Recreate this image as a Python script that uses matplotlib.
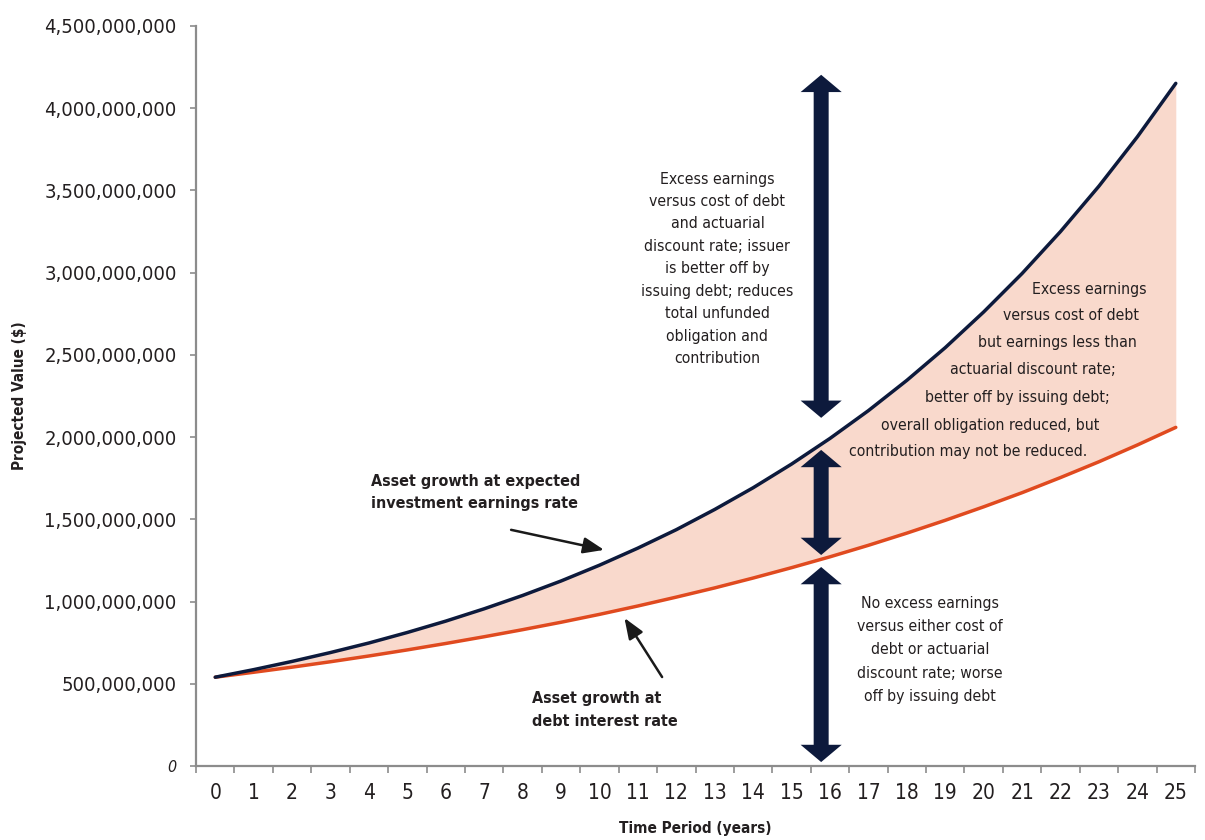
import matplotlib
matplotlib.use("Agg")
import matplotlib.pyplot as plt
from matplotlib.patches import Polygon
from matplotlib.ticker import FuncFormatter

FONT = ["Liberation Sans Narrow", "DejaVu Sans"]
plt.rcParams["font.family"] = FONT
plt.rcParams["font.stretch"] = "condensed"

# projected asset values, millions of dollars, by year
years = list(range(26))
earnings_rate_growth = [540, 586, 636, 690, 748, 812, 881, 956, 1037, 1125, 1221,
                        1325, 1437, 1560, 1692, 1836, 1992, 2161, 2345, 2544,
                        2761, 2995, 3250, 3526, 3826, 4151]
debt_rate_growth = [540, 570, 601, 634, 669, 706, 745, 786, 829, 874, 922,
                    973, 1027, 1083, 1143, 1206, 1272, 1342, 1416, 1494,
                    1576, 1662, 1754, 1850, 1952, 2059]
y_ticks = [0, 500e6, 1000e6, 1500e6, 2000e6, 2500e6, 3000e6, 3500e6, 4000e6, 4500e6]

blue_vals = [v * 1e6 for v in earnings_rate_growth]
red_vals = [v * 1e6 for v in debt_rate_growth]

NAVY = "#0d1a3c"
RED = "#e04a1f"
FILL = "#f9d9cc"
TXT = "#231f20"
GREY = "#8c8c8c"
NOTE_SIZE = 11.3

fig = plt.figure(figsize=(12.05, 8.4), dpi=100)
ax = fig.add_axes([0.1627, 0.0881, 0.829, 0.881])

ax.fill_between(years, red_vals, blue_vals, color=FILL, lw=0, zorder=1)
ax.plot(years, red_vals, color=RED, lw=2.5, zorder=3, solid_capstyle="round")
ax.plot(years, blue_vals, color=NAVY, lw=2.5, zorder=3, solid_capstyle="round")

ax.set_xlim(-0.5, 25.5)
ax.set_ylim(0, 4.5e9)

# category style x axis: ticks between years, labels on the years
ax.set_xticks([i - 0.5 for i in range(27)])
ax.set_xticklabels([])
ax.set_xticks(years, minor=True)
ax.set_xticklabels([str(y) for y in years], minor=True, fontsize=15, color=TXT)
ax.tick_params(axis="x", which="major", length=5, width=1.2, color=GREY)
ax.tick_params(axis="x", which="minor", length=0, pad=12)

ax.set_yticks(y_ticks)
ax.yaxis.set_major_formatter(FuncFormatter(lambda v, p: f"{v:,.0f}"))
ax.tick_params(axis="y", length=4, width=1.2, color=GREY, labelsize=14.5,
               labelcolor=TXT, pad=10)
zero_lbl = ax.get_yticklabels()[0]
zero_lbl.set_fontstyle("italic")
zero_lbl.set_fontsize(11.5)

for side in ("top", "right"):
    ax.spines[side].set_visible(False)
for side in ("left", "bottom"):
    ax.spines[side].set_color(GREY)
    ax.spines[side].set_linewidth(1.6)

ax.set_xlabel("Time Period (years)", fontsize=11, fontweight="bold", color=TXT)
ax.xaxis.set_label_coords(0.5, -0.075)
ax.set_ylabel("Projected Value ($)", fontsize=11, fontweight="bold", color=TXT)
ax.yaxis.set_label_coords(-0.169, 0.5)


# fat double-headed arrows at year 15.77
def double_arrow(x, y0, y1, shaft=0.39, head=1.07, head_len=0.105e9):
    s, h = shaft / 2, head / 2
    verts = [(x, y1), (x + h, y1 - head_len), (x + s, y1 - head_len),
             (x + s, y0 + head_len), (x + h, y0 + head_len), (x, y0),
             (x - h, y0 + head_len), (x - s, y0 + head_len),
             (x - s, y1 - head_len), (x - h, y1 - head_len)]
    ax.add_patch(Polygon(verts, closed=True, facecolor=NAVY, lw=0, zorder=4))


ARROW_X = 15.77
double_arrow(ARROW_X, 2.117e9, 4.203e9)
double_arrow(ARROW_X, 1.283e9, 1.922e9)
double_arrow(ARROW_X, 0.024e9, 1.21e9)

# line callouts
ax.text(4.06, 1.661e9, "Asset growth at expected\ninvestment earnings rate",
        fontsize=11.5, fontweight="bold", color=TXT, ha="left", va="center",
        linespacing=1.6)
ax.annotate("", xy=(10.12, 1.314e9), xytext=(7.70, 1.436e9),
            arrowprops=dict(arrowstyle="-|>,head_length=0.9,head_width=0.35",
                            color="#1a1a1a", lw=1.8, mutation_scale=14,
                            shrinkA=0, shrinkB=0))
ax.text(8.25, 0.341e9, "Asset growth at\ndebt interest rate",
        fontsize=11.5, fontweight="bold", color=TXT, ha="left", va="center",
        linespacing=1.6)
ax.annotate("", xy=(10.65, 0.900e9), xytext=(11.63, 0.541e9),
            arrowprops=dict(arrowstyle="-|>,head_length=0.9,head_width=0.35",
                            color="#1a1a1a", lw=1.8, mutation_scale=14,
                            shrinkA=0, shrinkB=0))

ax.text(13.07, 3.023e9,
        "Excess earnings\nversus cost of debt\nand actuarial\ndiscount rate; issuer\n"
        "is better off by\nissuing debt; reduces\ntotal unfunded\nobligation and\ncontribution",
        fontsize=NOTE_SIZE, color=TXT, ha="center", va="center", linespacing=1.62)

ax.text(18.61, 0.706e9,
        "No excess earnings\nversus either cost of\ndebt or actuarial\n"
        "discount rate; worse\noff by issuing debt",
        fontsize=NOTE_SIZE, color=TXT, ha="center", va="center", linespacing=1.7)

# slanted block inside the shaded wedge, one line at a time
wedge_lines = [
    ("Excess earnings", 22.75, 2.900e9),
    ("versus cost of debt", 22.26, 2.737e9),
    ("but earnings less than", 21.92, 2.573e9),
    ("actuarial discount rate;", 21.27, 2.409e9),
    ("better off by issuing debt;", 20.88, 2.239e9),
    ("overall obligation reduced, but", 20.17, 2.068e9),
    ("contribution may not be reduced.", 19.60, 1.910e9),
]
for line, lx, ly in wedge_lines:
    ax.text(lx, ly, line, fontsize=NOTE_SIZE, color=TXT, ha="center", va="center")

fig.savefig("out.png", dpi=100)
